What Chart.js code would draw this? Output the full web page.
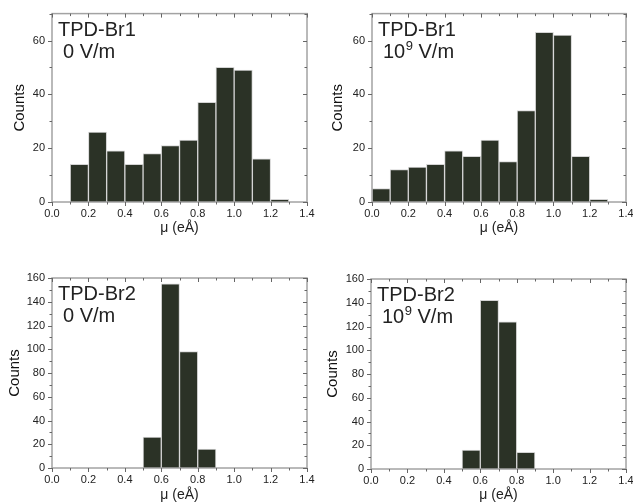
<!DOCTYPE html>
<html>
<head>
<meta charset="utf-8">
<script src="https://cdn.jsdelivr.net/npm/chart.js@4.4.0/dist/chart.umd.min.js"></script>
<style>
  html, body { margin: 0; padding: 0; background: #fff; overflow: hidden; width: 633px; height: 504px; }
  canvas { position: absolute; }
</style>
</head>
<body>
<canvas id="c1" width="320" height="245" style="left:0;top:0"></canvas>
<canvas id="c2" width="320" height="245" style="left:320px;top:0"></canvas>
<canvas id="c3" width="320" height="254" style="left:0;top:250px"></canvas>
<canvas id="c4" width="320" height="254" style="left:320px;top:250px"></canvas>
<script>
// histogram bins: lower edge of each bin, in eÅ
const binEdges = [0.0, 0.1, 0.2, 0.3, 0.4, 0.5, 0.6, 0.7, 0.8, 0.9, 1.0, 1.1, 1.2, 1.3];
const binWidth = 0.1;

// counts per bin
const br1Zero  = [0, 14, 26, 19, 14, 18, 21, 23, 37, 50, 49, 16, 1, 0];
const br1Field = [5, 12, 13, 14, 19, 17, 23, 15, 34, 63, 62, 17, 1, 0];
const br2Zero  = [0, 0, 0, 0, 0, 26, 155, 98, 16, 0, 0, 0, 0, 0];
const br2Field = [0, 0, 0, 0, 0, 16, 142, 124, 14, 0, 0, 0, 0, 0];

// tick labels
const xTicks = [0.0, 0.2, 0.4, 0.6, 0.8, 1.0, 1.2, 1.4];
const yTicksBr1 = [0, 20, 40, 60];
const yTicksBr2 = [0, 20, 40, 60, 80, 100, 120, 140, 160];

const FONT = "'Liberation Sans', Arial, sans-serif";

// frame round the plot + minor/major ticks like the original
const framePlugin = {
  id: 'frame',
  afterDraw(chart) {
    const { ctx, chartArea: a, scales: { x, y } } = chart;
    ctx.save();
    ctx.strokeStyle = '#a3a3a3';
    ctx.lineWidth = 1.5;
    ctx.strokeRect(a.left, a.top, a.right - a.left, a.bottom - a.top);

    ctx.strokeStyle = '#666';
    ctx.lineWidth = 1;
    ctx.beginPath();
    const xt = x.ticks.map(t => t.value);
    xt.forEach((v, i) => {
      const px = Math.round(x.getPixelForValue(v)) + 0.5;
      ctx.moveTo(px, a.bottom); ctx.lineTo(px, a.bottom + 4);
      ctx.moveTo(px, a.top); ctx.lineTo(px, a.top + 4);
      if (i < xt.length - 1) {
        const mx = Math.round(x.getPixelForValue((v + xt[i + 1]) / 2)) + 0.5;
        ctx.moveTo(mx, a.bottom); ctx.lineTo(mx, a.bottom + 2.5);
        ctx.moveTo(mx, a.top); ctx.lineTo(mx, a.top + 2.5);
      }
    });
    const yt = y.ticks.map(t => t.value);
    const ystep = yt[1] - yt[0];
    yt.forEach(v => {
      const py = Math.round(y.getPixelForValue(v)) + 0.5;
      ctx.moveTo(a.left - 4, py); ctx.lineTo(a.left, py);
      ctx.moveTo(a.right - 4, py); ctx.lineTo(a.right, py);
      const mv = v + ystep / 2;
      if (mv <= y.max) {
        const my = Math.round(y.getPixelForValue(mv)) + 0.5;
        ctx.moveTo(a.left - 2.5, my); ctx.lineTo(a.left, my);
        ctx.moveTo(a.right - 2.5, my); ctx.lineTo(a.right, my);
      }
    });
    ctx.stroke();
    ctx.restore();
  }
};

// sample name and field text in the top-left corner
const labelPlugin = {
  id: 'cornerLabel',
  afterDraw(chart, args, opts) {
    const { ctx, chartArea: a } = chart;
    ctx.save();
    ctx.fillStyle = '#222';
    ctx.textBaseline = 'alphabetic';
    ctx.font = `20px ${FONT}`;
    ctx.fillText(opts.name, a.left + 6, a.top + 22);
    let tx = a.left + 11;
    const by = a.top + 44;
    ctx.fillText(opts.base, tx, by);
    tx += ctx.measureText(opts.base).width;
    if (opts.sup) {
      ctx.font = `13px ${FONT}`;
      ctx.fillText(opts.sup, tx + 0.5, by - 8);
      tx += ctx.measureText(opts.sup).width + 0.5;
      ctx.font = `20px ${FONT}`;
    }
    ctx.fillText(opts.rest, tx, by);
    ctx.restore();
  }
};

function makePanel(id, counts, yMax, yTicks, label, box) {
  const pts = [];
  counts.forEach((c, i) => {
    if (c > 0) pts.push({ x: binEdges[i] + binWidth / 2, y: c });
  });

  new Chart(document.getElementById(id), {
    type: 'bar',
    data: {
      datasets: [{
        data: pts,
        backgroundColor: '#2b3226',
        borderColor: '#d4d4d4',
        borderWidth: 1,
        barPercentage: 1,
        categoryPercentage: 1
      }]
    },
    options: {
      responsive: false,
      animation: false,
      layout: { padding: { left: 0, top: box.top, right: box.right, bottom: 0 } },
      plugins: {
        legend: { display: false },
        tooltip: { enabled: false },
        cornerLabel: label
      },
      scales: {
        x: {
          type: 'linear',
          min: 0,
          max: 1.4,
          offset: false,
          grid: { display: false, drawTicks: false },
          border: { display: false },
          afterBuildTicks: s => { s.ticks = xTicks.map(v => ({ value: v })); },
          afterFit: s => { s.height = box.xh; },
          ticks: {
            padding: 5,
            color: '#222',
            maxRotation: 0,
            autoSkip: false,
            font: { family: FONT, size: 11 },
            callback: v => Number(v).toFixed(1)
          },
          title: {
            display: true,
            text: 'μ (eÅ)',
            color: '#222',
            font: { family: FONT, size: 14 },
            padding: { top: 0, bottom: box.xtPad }
          }
        },
        y: {
          min: 0,
          max: yMax,
          grid: { display: false, drawTicks: false },
          border: { display: false },
          afterBuildTicks: s => { s.ticks = yTicks.map(v => ({ value: v })); },
          afterFit: s => { s.width = box.left; },
          ticks: {
            padding: 7,
            color: '#222',
            font: { family: FONT, size: 11 }
          },
          title: {
            display: true,
            text: 'Counts',
            color: '#111',
            font: { family: FONT, size: 15 },
            padding: { top: box.ytPad, bottom: 0 }
          }
        }
      }
    },
    plugins: [framePlugin, labelPlugin]
  });
}

makePanel('c1', br1Zero, 70, yTicksBr1,
  { name: 'TPD-Br1', base: '0 V/m', sup: '', rest: '' },
  { left: 52, top: 13, right: 13, xh: 43, xtPad: 8, ytPad: 11 });
makePanel('c2', br1Field, 70, yTicksBr1,
  { name: 'TPD-Br1', base: '10', sup: '9', rest: ' V/m' },
  { left: 52, top: 13, right: 14, xh: 43, xtPad: 8, ytPad: 9 });
makePanel('c3', br2Zero, 160, yTicksBr2,
  { name: 'TPD-Br2', base: '0 V/m', sup: '', rest: '' },
  { left: 52, top: 28, right: 13, xh: 36, xtPad: 0, ytPad: 6 });
makePanel('c4', br2Field, 160, yTicksBr2,
  { name: 'TPD-Br2', base: '10', sup: '9', rest: ' V/m' },
  { left: 51, top: 29, right: 14, xh: 35, xtPad: 0, ytPad: 4 });
</script>
</body>
</html>
